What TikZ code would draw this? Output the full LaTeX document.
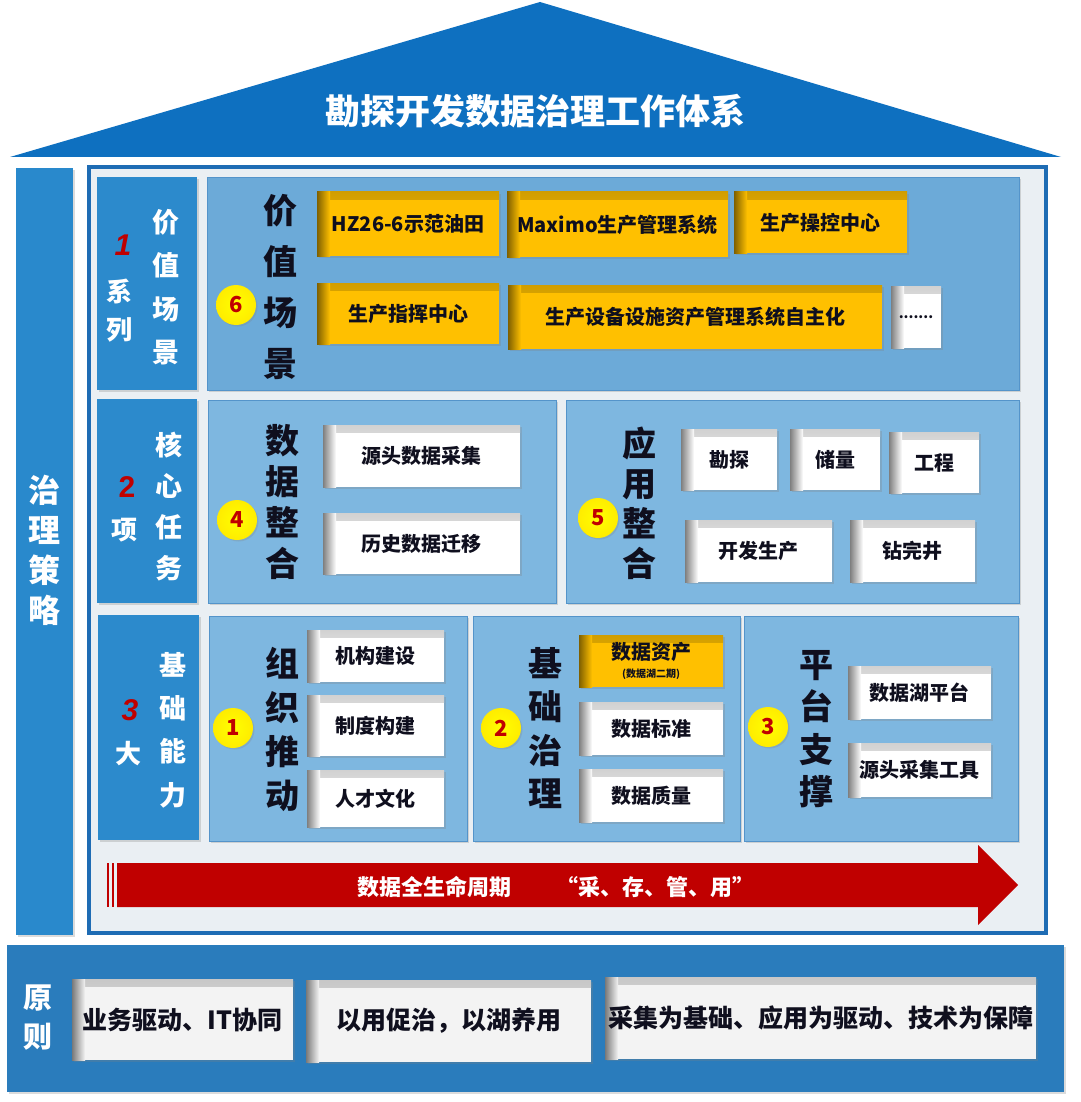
\documentclass[tikz,border=0pt]{standalone}
\usepackage{fontspec}
\setmainfont{Noto Sans CJK SC}
\newfontfamily\numfont{Liberation Sans}
\usetikzlibrary{shadows,calc}

\definecolor{roof}{RGB}{14,112,192}
\definecolor{lcol}{RGB}{41,137,204}
\definecolor{framefill}{RGB}{234,239,243}
\definecolor{framebd}{RGB}{30,108,180}
\definecolor{labblue}{RGB}{44,138,204}
\definecolor{panelA}{RGB}{108,170,216}
\definecolor{panelB}{RGB}{126,183,224}
\definecolor{panelbd}{RGB}{84,148,202}
\definecolor{boxor}{RGB}{255,192,0}
\definecolor{ink}{RGB}{15,15,30}
\definecolor{numred}{RGB}{192,0,0}
\definecolor{band}{RGB}{42,124,188}
\definecolor{pbox}{RGB}{243,243,243}
\definecolor{circy}{RGB}{255,255,0}

\newcommand\mkbox[7]{%
  \pgfmathsetmacro\mbw{#5-#3}%
  \pgfmathsetmacro\mbh{#6-#4}%
  \pgfmathsetmacro\mbx{(#3+#5)/2}%
  \pgfmathsetmacro\mby{(#4+#6)/2}%
  \node[#1, minimum width=\mbw pt, minimum height=\mbh pt] (#2) at (\mbx,\mby) {#7};%
}

\tikzset{
  sh/.style={drop shadow={shadow xshift=2pt, shadow yshift=-2pt, opacity=.28}},
  inset/.style={path picture={
      \shade[top color=#1!82!black, bottom color=#1] (path picture bounding box.north west) rectangle ([yshift=-7pt]path picture bounding box.north east);
      \shade[left color=#1!50!black, right color=#1] (path picture bounding box.south west) rectangle ([xshift=13pt]path picture bounding box.north west);
  }},
  framebox/.style={rectangle, draw=framebd, line width=3.5pt, fill=framefill, inner sep=0pt, sh},
  lcolbox/.style={rectangle, fill=lcol, inner sep=0pt, sh},
  lab/.style={rectangle, fill=labblue, inner sep=0pt, sh},
  panelone/.style={rectangle, fill=panelA, draw=panelbd, line width=.8pt, inner sep=0pt, sh},
  panel/.style={rectangle, fill=panelB, draw=panelbd, line width=.8pt, inner sep=0pt, sh},
  obox/.style={rectangle, fill=boxor, inset=boxor, inner sep=0pt, text=ink, align=center, font=\fontsize{20}{22}\selectfont\bfseries, sh},
  wbox/.style={rectangle, fill=white, inset=white, inner sep=0pt, text=ink, align=center, font=\fontsize{20}{22}\selectfont\bfseries, sh},
  pribox/.style={rectangle, fill=pbox, inset=pbox, inner sep=0pt, text=ink, font=\fontsize{25}{28}\selectfont\bfseries, sh},
  bandbox/.style={rectangle, fill=band, inner sep=0pt, sh},
  bigv/.style n args={2}{align=center, inner sep=0pt, text=ink, font=\fontsize{#1}{#2}\selectfont\bfseries},
  labv/.style n args={2}{align=center, inner sep=0pt, text=white, font=\fontsize{#1}{#2}\selectfont\bfseries},
  rnum/.style={inner sep=0pt, text=numred, font=\numfont\fontsize{30}{30}\selectfont\bfseries},
  rnumit/.style={inner sep=0pt, text=numred, font=\numfont\fontsize{30}{30}\selectfont\bfseries\itshape},
  circ/.style={circle, inner sep=0pt, minimum size=40pt, inner color=circy, outer color=circy!85!orange, text=numred, font=\fontsize{22}{22}\selectfont\bfseries, drop shadow={shadow xshift=1.5pt, shadow yshift=-1.5pt, opacity=.25}},
}

\begin{document}
\begin{tikzpicture}[x=1pt,y=-1pt]
\useasboundingbox (0,0) rectangle (1080,1102);
\fill[white] (0,0) rectangle (1080,1102);

% roof
\fill[roof] (540,2) -- (1061,157) -- (10,157) -- cycle;
\node[inner sep=0pt, text=white, font=\fontsize{35}{35}\selectfont\bfseries] (title) at (535,111) {勘探开发数据治理工作体系};

% left column
\mkbox{lcolbox}{lcolumn}{16}{168}{73}{935}{}
\node[labv={32}{40}] (zlcl) at (44,550) {治\\理\\策\\略};

% main frame
\mkbox{framebox}{frame}{89}{167}{1046}{933}{}

% ---------- row 1
\mkbox{lab}{L1}{97}{177}{197}{390}{}
\node[rnumit] (L1n) at (123,245) {1};
\node[labv={26}{38}] (L1a) at (119,311) {系\\列};
\node[labv={27}{43.5}] (L1b) at (166,287) {价\\值\\场\\景};
\mkbox{panelone}{P1}{207}{177}{1019}{390}{}
\node[bigv={34}{51}] (T1) at (280,287) {价\\值\\场\\景};
\node[circ] (C6) at (236,305) {6};
\mkbox{obox}{v1}{317}{192}{499}{256}{HZ26-6示范油田}
\mkbox{obox}{v2}{507}{192}{728}{257}{Maximo生产管理系统}
\mkbox{obox}{v3}{734}{192}{907}{253}{生产操控中心}
\mkbox{obox}{v4}{317}{283}{499}{344}{生产指挥中心}
\mkbox{obox}{v5}{508}{285}{882}{349}{生产设备设施资产管理系统自主化}
\mkbox{wbox, font=\fontsize{14}{14}\selectfont\bfseries}{v6}{891}{286}{941}{348}{.......}

% ---------- row 2
\mkbox{lab}{L2}{97}{399}{197}{603}{}
\node[rnum] (L2n) at (127,487) {2};
\node[labv={26}{26}] (L2a) at (124,530) {项};
\node[labv={27}{41}] (L2b) at (169,507) {核\\心\\任\\务};

\mkbox{panel}{P2}{208}{400}{556}{603}{}
\node[bigv={34}{41}] (T2) at (282,502) {数\\据\\整\\合};
\node[circ] (C4) at (237,520) {4};
\mkbox{wbox}{d1}{323}{425}{520}{487}{源头数据采集}
\mkbox{wbox}{d2}{323}{513}{520}{574}{历史数据迁移}

\mkbox{panel}{P3}{566}{400}{1019}{603}{}
\node[bigv={34}{40}] (T3) at (639,503) {应\\用\\整\\合};
\node[circ] (C5) at (598,518) {5};
\mkbox{wbox}{a1}{681}{429}{777}{490}{勘探}
\mkbox{wbox}{a2}{790}{429}{880}{490}{储量}
\mkbox{wbox}{a3}{889}{432}{979}{493}{工程}
\mkbox{wbox}{a4}{685}{520}{832}{582}{开发生产}
\mkbox{wbox}{a5}{850}{520}{975}{582}{钻完井}

% ---------- row 3
\mkbox{lab}{L3}{98}{615}{199}{840}{}
\node[rnumit] (L3n) at (130,710) {3};
\node[labv={26}{26}] (L3a) at (128,754) {大};
\node[labv={27}{43.3}] (L3b) at (173,730) {基\\础\\能\\力};

\mkbox{panel}{P4}{209}{616}{467}{841}{}
\node[bigv={34}{44}] (T4) at (282,729) {组\\织\\推\\动};
\node[circ] (C1) at (233,728) {1};
\mkbox{wbox}{o1}{307}{630}{444}{682}{机构建设}
\mkbox{wbox}{o2}{307}{695}{444}{756}{制度构建}
\mkbox{wbox}{o3}{307}{770}{444}{827}{人才文化}

\mkbox{panel}{P5}{473}{616}{740}{841}{}
\node[bigv={34}{43.5}] (T5) at (545,728) {基\\础\\治\\理};
\node[circ] (C2) at (501,728) {2};
\mkbox{obox}{g1}{579}{635}{723}{687}{数据资产\\[-4pt]{\fontsize{10}{10}\selectfont (数据湖二期)}}
\mkbox{wbox}{g2}{579}{702}{723}{755}{数据标准}
\mkbox{wbox}{g3}{579}{769}{723}{822}{数据质量}

\mkbox{panel}{P6}{744}{616}{1018}{841}{}
\node[bigv={34}{42.5}] (T6) at (816,729) {平\\台\\支\\撑};
\node[circ] (C3) at (768,727) {3};
\mkbox{wbox}{s1}{848}{666}{991}{719}{数据湖平台}
\mkbox{wbox}{s2}{848}{743}{991}{797}{源头采集工具}

% ---------- arrow
\fill[numred] (107,863) rectangle (109,907);
\fill[numred] (112,863) rectangle (114,907);
\fill[numred] (117,863) -- (978,863) -- (978,845) -- (1018,885) -- (978,925) -- (978,907) -- (117,907) -- cycle;
\node[inner sep=0pt, text=white, font=\fontsize{22}{22}\selectfont\bfseries] (arrtxt) at (556,887) {数据全生命周期\hspace{46pt}“采、存、管、用”};

% ---------- principles
\mkbox{bandbox}{band}{7}{945}{1064}{1092}{}
\node[labv={29}{39}] (yz) at (38,1018) {原\\则};
\mkbox{pribox}{b1}{72}{979}{293}{1060}{业务驱动、IT协同}
\mkbox{pribox}{b2}{306}{980}{591}{1062}{以用促治，以湖养用}
\mkbox{pribox}{b3}{605}{977}{1036}{1059}{采集为基础、应用为驱动、技术为保障}
\end{tikzpicture}
\end{document}
